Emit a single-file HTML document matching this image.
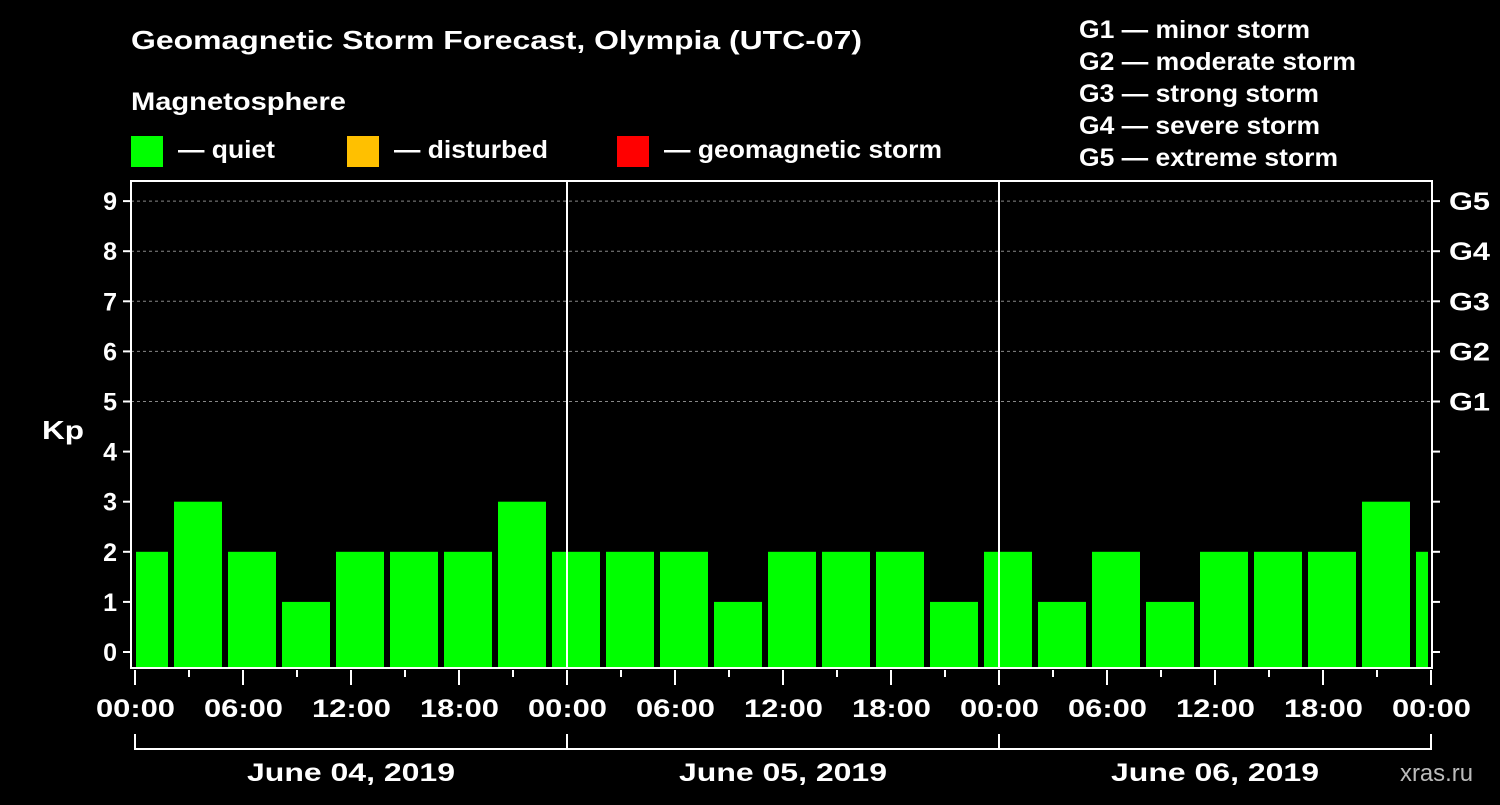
<!DOCTYPE html>
<html><head><meta charset="utf-8"><style>
body{margin:0;background:#000;width:1500px;height:800px;overflow:hidden}
svg text{font-family:"Liberation Sans",Arial,sans-serif;font-weight:bold;fill:#fff}
</style></head><body>
<svg id="chart" width="1500" height="800" xmlns="http://www.w3.org/2000/svg" font-family="Liberation Sans, Arial, sans-serif">
<text x="131" y="49" font-size="26" textLength="731" lengthAdjust="spacingAndGlyphs">Geomagnetic Storm Forecast, Olympia (UTC-07)</text>
<text x="131" y="110" font-size="25" textLength="215" lengthAdjust="spacingAndGlyphs">Magnetosphere</text>
<g><rect x="131" y="136" width="32" height="31" fill="#00ff00"/><text x="178" y="158" font-size="25" textLength="97" lengthAdjust="spacingAndGlyphs">— quiet</text></g>
<g><rect x="347" y="136" width="32" height="31" fill="#ffc000"/><text x="394" y="158" font-size="25" textLength="154" lengthAdjust="spacingAndGlyphs">— disturbed</text></g>
<g><rect x="617" y="136" width="32" height="31" fill="#ff0000"/><text x="664" y="158" font-size="25" textLength="278" lengthAdjust="spacingAndGlyphs">— geomagnetic storm</text></g>
<g font-size="25">
<text x="1079" y="38" textLength="231" lengthAdjust="spacingAndGlyphs">G1 — minor storm</text>
<text x="1079" y="70" textLength="277" lengthAdjust="spacingAndGlyphs">G2 — moderate storm</text>
<text x="1079" y="102" textLength="240" lengthAdjust="spacingAndGlyphs">G3 — strong storm</text>
<text x="1079" y="134" textLength="241" lengthAdjust="spacingAndGlyphs">G4 — severe storm</text>
<text x="1079" y="166" textLength="259" lengthAdjust="spacingAndGlyphs">G5 — extreme storm</text>
</g>
<text x="42" y="439" font-size="26" textLength="42" lengthAdjust="spacingAndGlyphs">Kp</text>
<text x="1400" y="781" font-size="24" style="fill:#bbb;font-weight:normal" textLength="73" lengthAdjust="spacingAndGlyphs">xras.ru</text>
<g id="grid"></g><g id="bars"></g><g id="axes"></g>
</svg>
<script>
const kpValues=[2,3,2,1,2,2,2,3,2,2,2,1,2,2,2,1,2,1,2,1,2,2,2,3,2];
const barHours=[0.5,3.5,6.5,9.5,12.5,15.5,18.5,21.5,24.5,27.5,30.5,33.5,36.5,39.5,42.5,45.5,48.5,51.5,54.5,57.5,60.5,63.5,66.5,69.5,72.5];
const yTicks=[0,1,2,3,4,5,6,7,8,9];
const gLabels=["G1","G2","G3","G4","G5"];
const xTickLabels=["00:00","06:00","12:00","18:00","00:00","06:00","12:00","18:00","00:00","06:00","12:00","18:00","00:00"];
const dayLabels=["June 04, 2019","June 05, 2019","June 06, 2019"];
(function(){
const NS="http://www.w3.org/2000/svg";
const x0=135,pxH=18,pLeft=131,pRight=1432,pTop=181,pBottom=668;
const xs=h=>x0+h*pxH, ys=v=>652-v*50.1;
function mk(tag,attrs,parent){const e=document.createElementNS(NS,tag);for(const k in attrs)e.setAttribute(k,attrs[k]);parent.appendChild(e);return e;}
const grid=document.getElementById('grid'),bars=document.getElementById('bars'),axes=document.getElementById('axes');
yTicks.forEach(v=>{if(v>=5){const l=mk('line',{x1:pLeft,x2:pRight,y1:ys(v),y2:ys(v),stroke:'#888','stroke-dasharray':'3,3','stroke-width':1},grid);

}});
kpValues.forEach((v,i)=>{const c=xs(barHours[i]);let a=Math.max(c-24,pLeft+5),b=Math.min(c+24,pRight-4);
const col=v>=5?'#ff0000':(v>=4?'#ffc000':'#00ff00');
const r=mk('rect',{x:a,y:ys(v),width:b-a,height:pBottom-1-ys(v),fill:col},bars);

});
mk('rect',{x:pLeft,y:pTop,width:pRight-pLeft,height:pBottom-pTop,fill:'none',stroke:'#fff','stroke-width':2},axes);
[1,2].forEach(d=>mk('line',{x1:xs(24*d),x2:xs(24*d),y1:pTop,y2:pBottom,stroke:'#fff','stroke-width':2},axes));
yTicks.forEach(v=>{const y=ys(v);mk('line',{x1:pLeft-8,x2:pLeft,y1:y,y2:y,stroke:'#fff','stroke-width':2},axes);
mk('line',{x1:pRight,x2:pRight+8,y1:y,y2:y,stroke:'#fff','stroke-width':2},axes);
const t=mk('text',{x:117,y:y+9,'font-size':25,'text-anchor':'end'},axes);t.textContent=v;


if(v>=5){const g=mk('text',{x:1449,y:y+9,'font-size':25,textLength:41,lengthAdjust:'spacingAndGlyphs'},axes);g.textContent=gLabels[v-5];

}});
for(let h=0;h<=72;h+=3){const major=h%6===0;mk('line',{x1:xs(h),x2:xs(h),y1:pBottom+2,y2:pBottom+(major?17:9),stroke:'#fff','stroke-width':2},axes);}
xTickLabels.forEach((s,i)=>{const t=mk('text',{x:xs(i*6)-39,y:717,'font-size':25,textLength:79,lengthAdjust:'spacingAndGlyphs'},axes);t.textContent=s;

});
mk('line',{x1:xs(0),x2:xs(72),y1:749,y2:749,stroke:'#fff','stroke-width':2},axes);
for(let d=0;d<=3;d++)mk('line',{x1:xs(24*d),x2:xs(24*d),y1:734,y2:750,stroke:'#fff','stroke-width':2},axes);
dayLabels.forEach((s,i)=>{const t=mk('text',{x:xs(24*i+12)-104,y:781,'font-size':25,textLength:208,lengthAdjust:'spacingAndGlyphs'},axes);t.textContent=s;

});
})();
</script>
</body></html>
